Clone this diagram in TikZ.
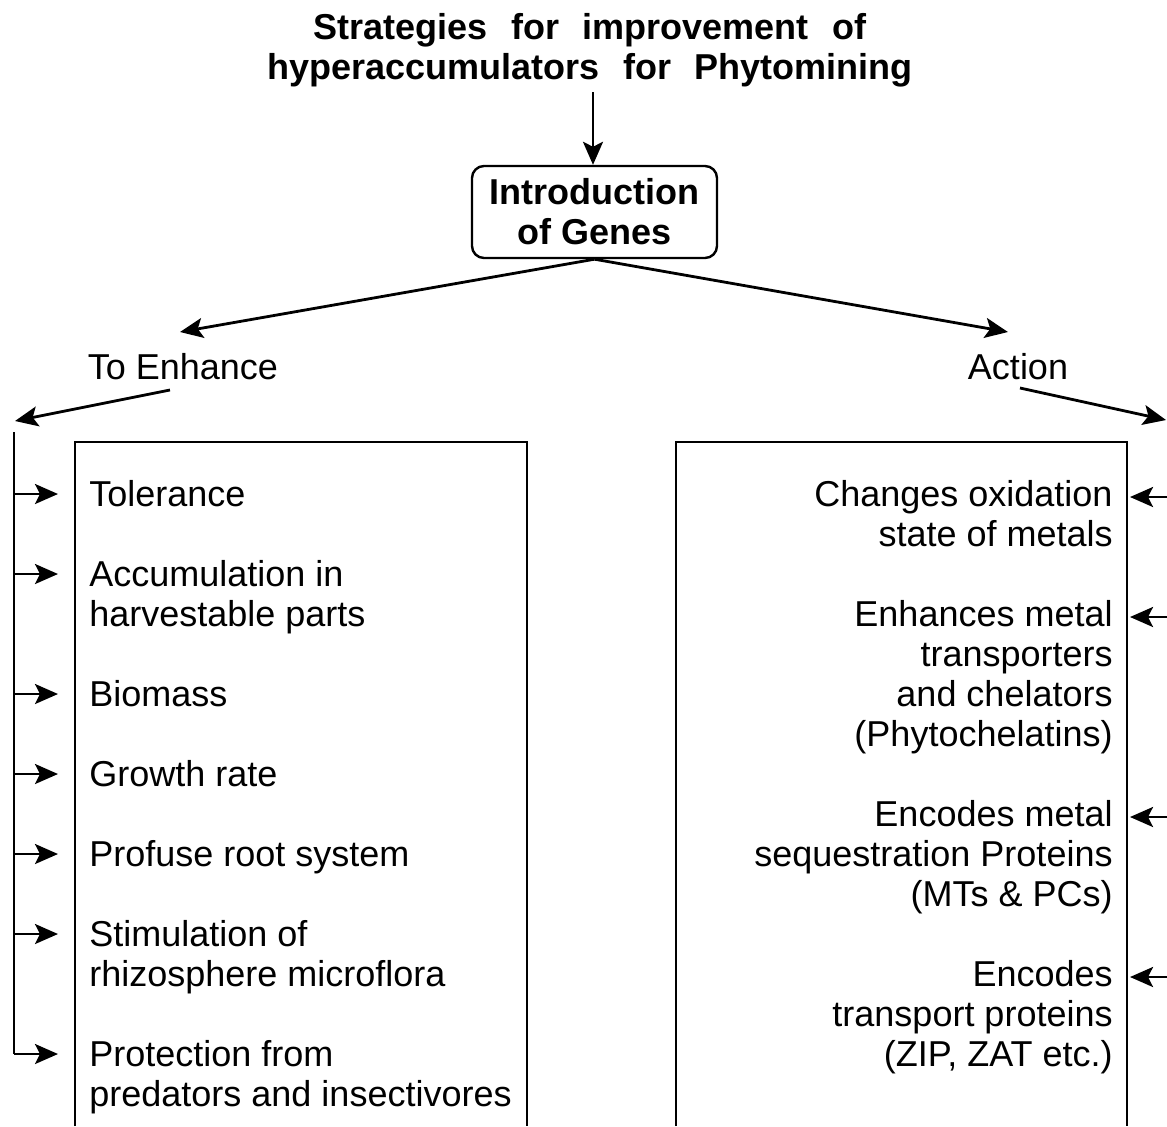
\documentclass[tikz,border=0pt]{standalone}
\usepackage{fontspec}
\setmainfont{Liberation Sans}
\usetikzlibrary{arrows.meta}

\newcommand{\wsp}{\hspace{0.65em}}

\tikzset{
  txt/.style={font=\fontsize{18}{20}\selectfont, inner sep=0pt},
  ttl/.style={font=\fontsize{18}{20}\selectfont\bfseries, align=center, inner sep=0pt},
  arr/.style={line width=1.4pt, -{Stealth[length=11.5pt, width=10pt, inset=2.5pt]}},
  frame/.style={line width=1.1pt},
}

\begin{document}
\begin{tikzpicture}[x=0.5pt,y=-0.5pt]
		\useasboundingbox (0,0) rectangle (1167,1126);

		% title and gene box
		\node [ttl] (title) at (590,50) {Strategies\wsp for\wsp improvement\wsp of\\hyperaccumulators\wsp for\wsp Phytomining};
		\node [ttl, draw, line width=1.2pt, rounded corners=6pt, minimum width=122.5pt, minimum height=46pt] (genes) at (594.5,212) {Introduction\\of Genes};
		\coordinate (ttlfoot) at (593,92);
		\draw [arr] (ttlfoot) -- (ttlfoot |- genes.north);

		% the two branches
		\node [txt] (enh) at (183,367) {To Enhance};
		\node [txt] (act) at (1018,367) {Action};
		\coordinate (enhtip) at (180,332);
		\coordinate (acttip) at (1008,332);
		\draw [arr] (genes.south) -- (enhtip);
		\draw [arr] (genes.south) -- (acttip);

		\coordinate (enhfoot) at (170,390);
		\coordinate (spinetip) at (15,421);
		\draw [arr] (enhfoot) -- (spinetip);
		\coordinate (actfoot) at (1020,388);
		\coordinate (edgetip) at (1166,420);
		\draw [arr] (actfoot) -- (edgetip);

		% open boxes
		\draw [frame] (75,1126) -- (75,442) -- (527,442) -- (527,1126);
		\draw [frame] (676,1126) -- (676,442) -- (1127,442) -- (1127,1126);

		% left column
		\coordinate (spine) at (14,432);
		\draw [line width=1.4pt] (spine) -- (14,1054);
		\foreach \y/\t [count=\i] in {494/Tolerance,
			574/{Accumulation in\\harvestable parts},
			694/Biomass,
			774/Growth rate,
			854/Profuse root system,
			934/{Stimulation of\\rhizosphere microflora},
			1054/{Protection from\\predators and insectivores}}
		{
			\node [txt, align=left, anchor=north west] (L\i) at (89,\y-14) {\t};
			\coordinate (la\i) at (14,\y);
			\draw [arr] (la\i) -- ([xshift=-15.5pt]L\i.west |- la\i);
		}

		% right column
		\foreach \y/\t [count=\i] in {494/{Changes oxidation\\state of metals},
			614/{Enhances metal\\transporters\\and chelators\\(Phytochelatins)},
			814/{Encodes metal\\sequestration Proteins\\(MTs \& PCs)},
			974/{Encodes\\transport proteins\\(ZIP, ZAT etc.)}}
		{
			\node [txt, align=right, anchor=north east] (R\i) at (1113,\y-14) {\t};
			\coordinate (ra\i) at (1167,\y+3);
			\draw [arr] (ra\i) -- ([xshift=8.5pt]R\i.east |- ra\i);
		}
\end{tikzpicture}
\end{document}
